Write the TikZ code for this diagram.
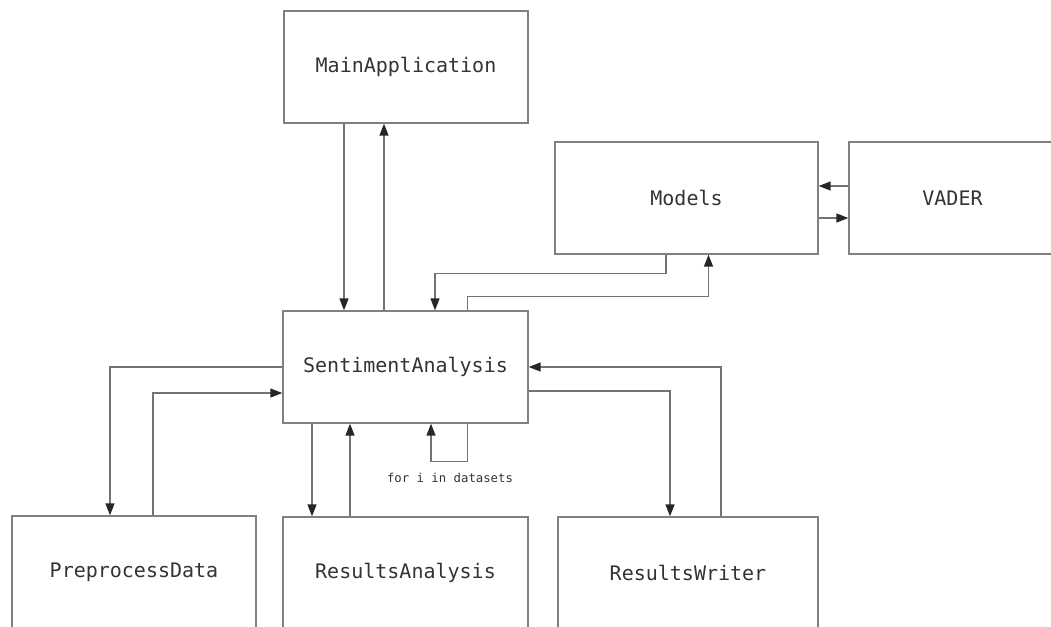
\documentclass[tikz,border=0pt]{standalone}
\usepackage{fontspec}
\setmonofont{DejaVu Sans Mono}
\usepackage{xcolor}
\usetikzlibrary{arrows.meta, positioning}

\begin{document}
\begin{tikzpicture}[
  x=1pt, y=-1pt,
  >={Triangle[length=12pt, width=9pt, color=black!85]},
  every node/.style={font=\ttfamily\fontsize{20}{24}\selectfont, text=black!80},
  box/.style={draw=black!50, line width=1.4pt, minimum height=112pt, inner sep=0pt},
  wire/.style={->, draw=black!55, line width=1.5pt},
  note/.style={font=\ttfamily\fontsize{12.3}{14}\selectfont},
]
\useasboundingbox (0,0) rectangle (1051,626);
\node[box, minimum width=244pt] (main)   at (406,67)    {MainApplication};
\node[box, minimum width=263pt] (models) at (686.5,198) {Models};
\node[box, minimum width=207pt] (vader)  at (952.5,198) {VADER};
\node[box, minimum width=245pt] (sent)   at (405.5,367) {SentimentAnalysis};
\node[box, minimum width=244pt] (prep)   at (134,572)   {PreprocessData};
\node[box, minimum width=245pt] (ra)     at (405.5,573) {ResultsAnalysis};
\node[box, minimum width=260pt] (writer) at (688,573)   {ResultsWriter};
\node[note] (loopnote) at (450,478) {for i in datasets};
\draw[wire] ([xshift=-62pt]main.south) -- ([xshift=-62pt]main.south |- sent.north);
\draw[wire] ([xshift=-21.5pt]sent.north) -- ([xshift=-21.5pt]sent.north |- main.south);
\draw[wire] ([yshift=12pt]vader.west) -- ([yshift=12pt]vader.west -| models.east);
\draw[wire] ([yshift=-20pt]models.east) -- ([yshift=-20pt]models.east -| vader.west);
\draw[wire] ([xshift=-20.5pt]models.south) -- ++(0,19) -| ([xshift=29.5pt]sent.north);
\draw[wire] ([xshift=62pt]sent.north) -- ++(0,-14) -| ([xshift=22pt]models.south);
\draw[wire] (sent.west) -| ([xshift=-24pt]prep.north);
\draw[wire] ([xshift=19pt]prep.north) |- ([yshift=-26pt]sent.west);
\draw[wire] ([xshift=-93.5pt]sent.south) -- ([xshift=-93.5pt]sent.south |- ra.north);
\draw[wire] ([xshift=-55.5pt]ra.north) -- ([xshift=-55.5pt]ra.north |- sent.south);
\draw[wire] ([xshift=62pt]sent.south) -- ++(0,38) -| ([xshift=25.5pt]sent.south);
\draw[wire] ([yshift=-24pt]sent.east) -| ([xshift=-18pt]writer.north);
\draw[wire] ([xshift=33pt]writer.north) |- (sent.east);
\end{tikzpicture}
\end{document}
